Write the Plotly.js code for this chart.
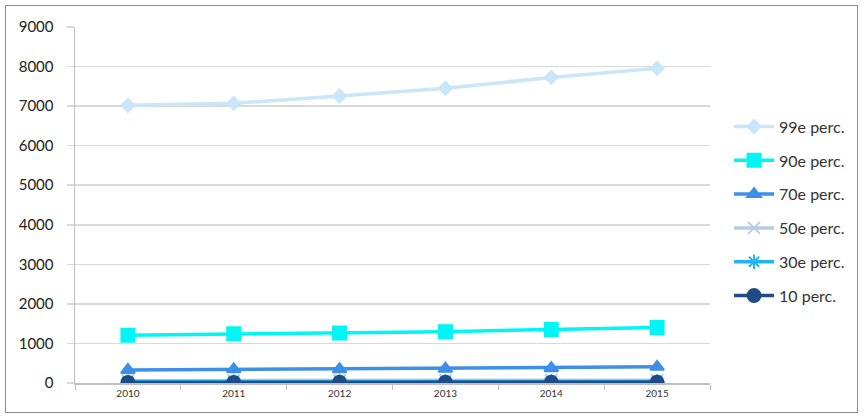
<!DOCTYPE html>
<html>
<head>
<meta charset="utf-8">
<script src="https://cdn.plot.ly/plotly-3.0.1.min.js"></script>
<style>
html,body{margin:0;padding:0;background:#fff;}
#wrap{position:relative;width:864px;height:419px;}
#chart{width:864px;height:419px;}
#frame{position:absolute;left:5px;top:5px;width:853px;height:408px;border:1.5px solid #8c8c8c;pointer-events:none;box-sizing:border-box;}
</style>
</head>
<body>
<div id="wrap"><div id="chart"></div><div id="frame"></div></div>
<script>
const years = ['2010','2011','2012','2013','2014','2015'];
const seriesNames = ['99e perc.','90e perc.','70e perc.','50e perc.','30e perc.','10 perc.'];
const p99 = [7020, 7070, 7255, 7450, 7725, 7955];
const p90 = [1210, 1244, 1261, 1295, 1355, 1406];
const p70 = [330, 345, 350, 360, 375, 410];
const p50 = [60, 62, 64, 66, 68, 70];
const p30 = [35, 36, 37, 38, 39, 40];
const p10 = [15, 15, 16, 16, 17, 17];
const seriesValues = [p99, p90, p70, p50, p30, p10];

const colors = ['#c9e6fa', '#00f5f5', '#3d8fe8', '#b9cbe4', '#22b4f2', '#1f4c86'];
const symbols = ['diamond', 'square', 'triangle-up', 'x-thin-open', 'asterisk-open', 'circle'];
const sizes = [10, 13, 12, 12, 12, 13];

const traces = seriesValues.map((vals, i) => ({
  type: 'scatter',
  mode: 'lines+markers',
  x: years,
  y: vals,
  name: seriesNames[i],
  legendgroup: 'g' + i,
  line: {color: colors[i], width: 3.5},
  marker: {symbol: symbols[i], size: sizes[i], color: colors[i], line: {color: colors[i], width: 2}}
}));

const layout = {
  width: 864, height: 419,
  margin: {l: 75, r: 154, t: 27, b: 36},
  paper_bgcolor: '#fff', plot_bgcolor: '#fff',
  font: {family: 'Lato, "Open Sans", sans-serif', color: '#333'},
  showlegend: true,
  legend: {
    x: 1.03, xanchor: 'left', y: 0.768, yanchor: 'top',
    traceorder: 'grouped', tracegroupgap: 10,
    itemwidth: 40,
    font: {size: 16, color: '#333'},
    bgcolor: 'rgba(0,0,0,0)'
  },
  xaxis: {
    type: 'category',
    range: [-0.5, 5.5],
    showgrid: false,
    showline: true, linecolor: '#bfbfbf', linewidth: 1.5,
    ticks: 'outside', tickson: 'boundaries', ticklen: 5, tickcolor: '#bfbfbf', tickwidth: 1,
    tickfont: {size: 10, color: '#333'},
    zeroline: false, fixedrange: true
  },
  yaxis: {
    range: [0, 9000],
    tickvals: [0,1000,2000,3000,4000,5000,6000,7000,8000,9000],
    showgrid: true, gridcolor: '#d9d9d9', gridwidth: 1.5,
    showline: true, linecolor: '#bfbfbf', linewidth: 1.5,
    ticks: 'outside', ticklen: 7, tickcolor: '#d9d9d9', tickwidth: 1.5,
    ticklabelstandoff: 10,
    tickfont: {size: 15, color: '#222'},
    zeroline: false, fixedrange: true
  }
};

Plotly.newPlot('chart', traces, layout, {displayModeBar: false, staticPlot: true});
</script>
</body>
</html>
